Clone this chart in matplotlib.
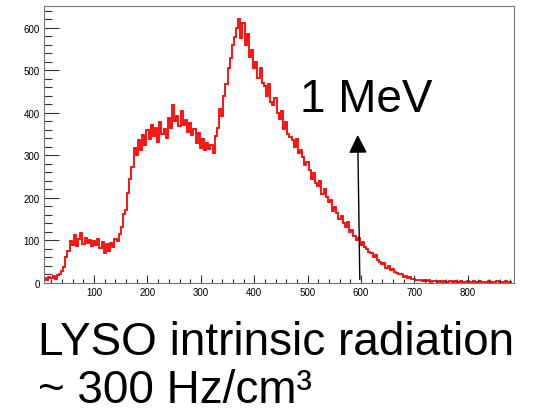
import matplotlib.pyplot as plt
from matplotlib.ticker import MultipleLocator
import numpy as np

plt.rcParams['font.family'] = ['Liberation Sans', 'DejaVu Sans']

# histogram contents, one value per 4-channel bin starting at channel 6
counts = [12, 8, 15, 11, 16, 10, 18, 21, 28,
          38, 62, 75, 98,
          90, 112, 88, 104, 118, 92, 106, 94, 100, 86,
          99, 90, 103, 82, 97, 70, 92, 76, 95, 84, 104,
          98, 116, 132, 162, 172, 212, 244, 272, 318,
          300, 335, 312, 348, 325, 360, 338, 372, 345, 365, 332, 378, 350, 362, 340, 388,
          365, 418, 380, 392, 368, 405, 372, 382, 355, 376,
          348, 362, 330, 352, 318, 338, 312, 330, 315, 325, 305,
          345, 365, 410, 392, 440, 468, 505, 528, 560, 578, 600, 620,
          575, 612, 560, 585, 530, 548, 505, 520,
          482, 505, 470, 462, 440, 468, 425, 418, 435, 400, 385, 405,
          362, 378, 350, 342, 336, 320, 338, 305, 312, 296, 278, 285,
          265, 245, 258, 236, 228, 240, 210, 222, 202, 190, 196, 170, 178,
          165, 150, 158, 140, 132, 144, 120, 124, 110, 102, 106, 90, 97,
          84, 80, 74, 70, 60, 66, 55, 50, 45, 48, 36, 40, 31,
          33, 25, 24, 20, 22, 15, 17, 12, 14, 9, 10, 7,
          6, 7, 5, 7, 4, 6, 3, 5, 4, 2, 5, 3, 4, 2, 3, 5, 2, 4, 3, 2, 4, 3, 2,
          5, 3, 2, 4, 2, 3, 4, 2, 3, 2, 4, 3, 2, 3, 4, 2, 3, 2, 4, 2, 3]
first_channel = 6
bin_width = 4

xticks = [100, 200, 300, 400, 500, 600, 700, 800]
yticks = [0, 100, 200, 300, 400, 500, 600]

edges = first_channel + bin_width * np.arange(len(counts) + 1)

fig = plt.figure(figsize=(5.41, 4.14), dpi=100)
ax = fig.add_axes([44/541, 130/414, 470/541, 277/414])

ax.stairs(counts, edges, color='red', lw=1.3)

ax.set_xlim(6, 887)
ax.set_ylim(0, max(counts) * 1.05)
ax.set_xticks(xticks)
ax.set_yticks(yticks)
ax.xaxis.set_minor_locator(MultipleLocator(20))
ax.yaxis.set_minor_locator(MultipleLocator(20))
ax.tick_params(axis='both', which='both', direction='in', labelsize=7,
               color='#333333', width=0.8)
ax.tick_params(axis='y', which='major', length=11, pad=3)
ax.tick_params(axis='y', which='minor', length=5.5)
ax.tick_params(axis='x', which='major', length=6, pad=3)
ax.tick_params(axis='x', which='minor', length=3)
for s in ax.spines.values():
    s.set_color('#777777')
    s.set_linewidth(0.8)

# 1 MeV marker
ax.annotate('', xy=(594, 348), xytext=(598, 8),
            arrowprops=dict(arrowstyle='-|>', color='black', lw=1,
                            mutation_scale=28, shrinkA=0, shrinkB=0))
fig.text(300/541, 1 - 100/414, '1 MeV', fontsize=33, ha='left', va='center')

fig.text(38/541, 1 - 355/414, 'LYSO intrinsic radiation', fontsize=33,
         ha='left', va='baseline')
fig.text(38/541, 1 - 403/414, '~ 300 Hz/cm³', fontsize=33,
         ha='left', va='baseline')

fig.savefig('out.png', dpi=100)
